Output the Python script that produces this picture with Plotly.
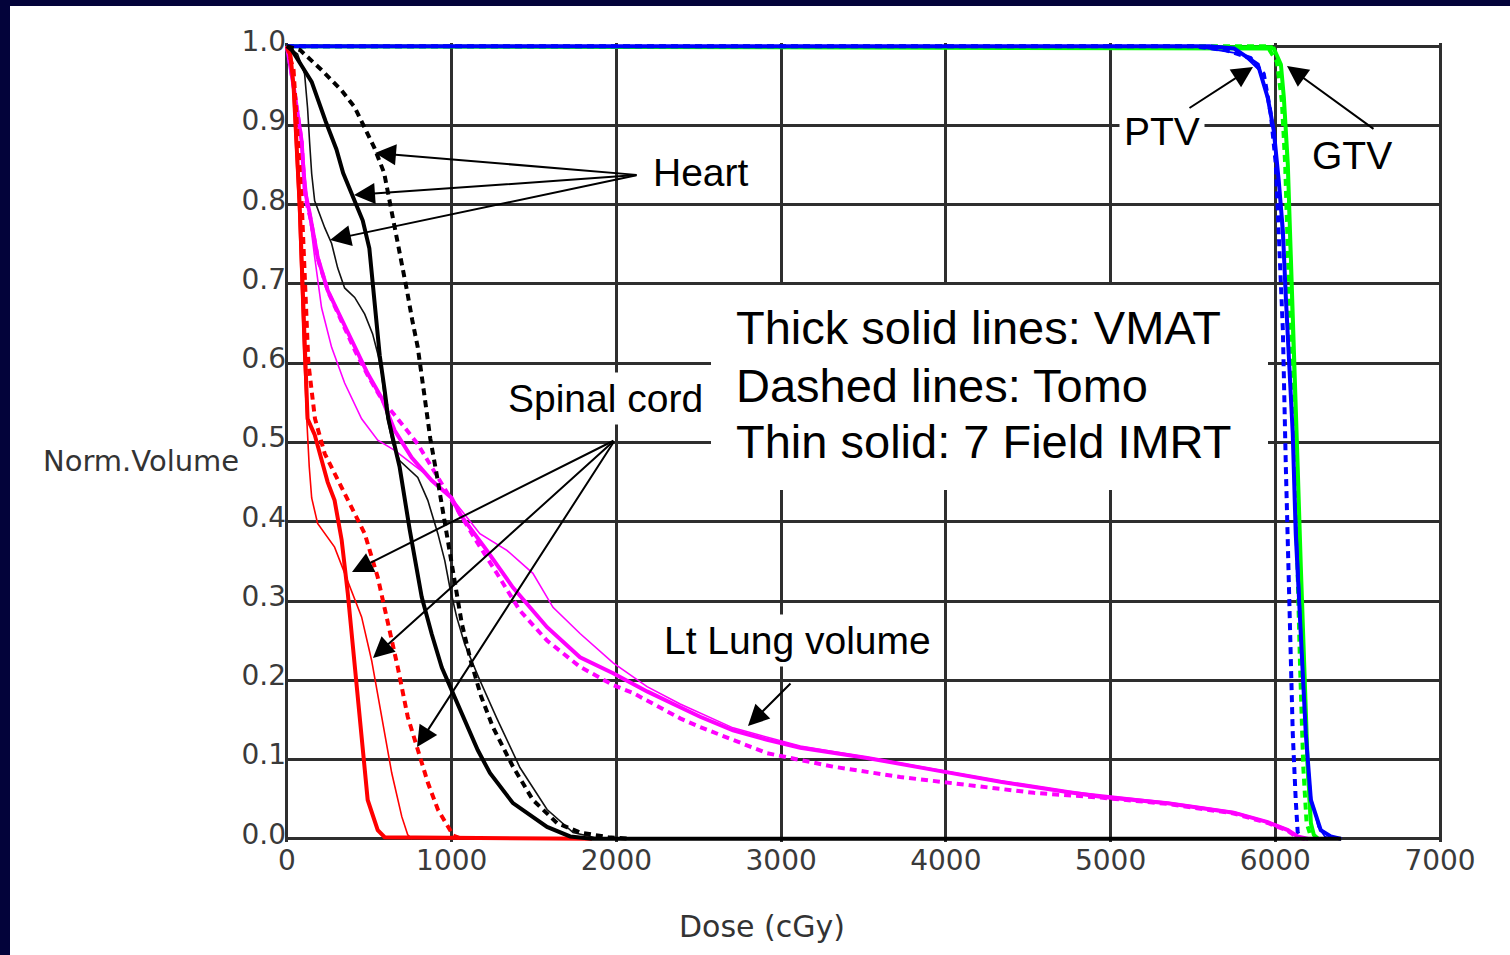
import plotly.graph_objects as go

# ---------------- data (dose in cGy, normalized volume) ----------------
heart_vmat_dose = [0, 30, 90, 150, 235, 300, 341, 400, 460, 500, 532, 563, 593, 615, 684, 745, 818, 879, 940, 1000, 1079, 1158, 1232, 1372, 1579, 1719, 1850, 6400]
heart_vmat_vol = [1.0, 0.995, 0.975, 0.955, 0.905, 0.87, 0.84, 0.81, 0.78, 0.745, 0.68, 0.61, 0.566, 0.53, 0.469, 0.39, 0.305, 0.258, 0.216, 0.188, 0.15, 0.112, 0.083, 0.045, 0.015, 0.003, 0.0, 0.0]

heart_tomo_dose = [0, 80, 210, 332, 411, 472, 530, 590, 638, 690, 730, 760, 794, 836, 870, 912, 960, 1010, 1061, 1115, 1178, 1250, 1372, 1493, 1639, 1779, 1950, 2083]
heart_tomo_vol = [1.0, 0.995, 0.97, 0.944, 0.923, 0.897, 0.872, 0.84, 0.79, 0.734, 0.69, 0.655, 0.62, 0.557, 0.505, 0.456, 0.395, 0.33, 0.272, 0.225, 0.18, 0.141, 0.091, 0.049, 0.02, 0.008, 0.002, 0.0]

heart_imrt_dose = [0, 30, 64, 107, 125, 137, 150, 168, 229, 271, 308, 350, 411, 472, 520, 551, 575, 600, 640, 685, 794, 855, 916, 958, 988, 1030, 1080, 1171, 1274, 1414, 1579, 1737, 1900]
heart_imrt_vol = [1.0, 0.995, 0.99, 0.965, 0.922, 0.88, 0.839, 0.805, 0.771, 0.751, 0.72, 0.695, 0.683, 0.662, 0.637, 0.612, 0.587, 0.54, 0.5, 0.477, 0.456, 0.427, 0.385, 0.351, 0.318, 0.28, 0.245, 0.2, 0.152, 0.09, 0.037, 0.008, 0.0]

cord_vmat_dose = [0, 20, 40, 77, 107, 125, 168, 247, 289, 332, 369, 411, 453, 490, 551, 593, 1850]
cord_vmat_vol = [1.0, 0.99, 0.95, 0.80, 0.63, 0.53, 0.51, 0.45, 0.427, 0.377, 0.31, 0.217, 0.134, 0.049, 0.011, 0.002, 0.0]

cord_tomo_dose = [0, 40, 90, 130, 170, 229, 289, 392, 472, 551, 611, 672, 733, 794, 855, 916, 976, 1010, 1060]
cord_tomo_vol = [1.0, 0.97, 0.80, 0.60, 0.53, 0.486, 0.461, 0.418, 0.385, 0.33, 0.276, 0.217, 0.154, 0.112, 0.071, 0.037, 0.015, 0.004, 0.0]

cord_imrt_dose = [0, 30, 70, 100, 120, 135, 150, 186, 289, 369, 453, 514, 575, 636, 697, 733, 760]
cord_imrt_vol = [1.0, 0.97, 0.80, 0.62, 0.53, 0.47, 0.43, 0.398, 0.368, 0.326, 0.28, 0.225, 0.154, 0.083, 0.028, 0.005, 0.0]

lung_vmat_dose = [0, 40, 89, 107, 137, 186, 247, 332, 411, 490, 575, 654, 757, 879, 1000, 1049, 1213, 1372, 1579, 1779, 1980, 2186, 2387, 2508, 2708, 2915, 3116, 3523, 3925, 4332, 4739, 4939, 5347, 5747, 5954, 6076, 6136, 6200]
lung_vmat_vol = [1.0, 0.95, 0.88, 0.82, 0.79, 0.734, 0.692, 0.655, 0.62, 0.587, 0.556, 0.515, 0.481, 0.452, 0.43, 0.41, 0.364, 0.317, 0.267, 0.229, 0.209, 0.186, 0.166, 0.154, 0.137, 0.125, 0.115, 0.102, 0.087, 0.072, 0.059, 0.053, 0.045, 0.033, 0.021, 0.011, 0.003, 0.0]

lung_tomo_dose = [0, 40, 89, 110, 140, 190, 250, 335, 415, 495, 580, 672, 794, 916, 1037, 1158, 1274, 1414, 1579, 1779, 1980, 2101, 2387, 2508, 2915, 3317, 3723, 4130, 4534, 4939, 5347, 5747, 5954, 6076, 6130, 6180]
lung_tomo_vol = [1.0, 0.95, 0.88, 0.81, 0.785, 0.73, 0.69, 0.65, 0.615, 0.583, 0.553, 0.53, 0.498, 0.456, 0.414, 0.373, 0.335, 0.288, 0.25, 0.217, 0.194, 0.184, 0.152, 0.141, 0.108, 0.091, 0.078, 0.068, 0.058, 0.052, 0.044, 0.032, 0.02, 0.01, 0.002, 0.0]

lung_imrt_dose = [0, 40, 89, 125, 168, 210, 271, 350, 453, 551, 654, 757, 855, 1000, 1171, 1335, 1493, 1615, 1779, 1980, 2186, 2387, 2708, 3116, 3523, 3925, 4332, 4739, 5347, 5747, 5954, 6076, 6136, 6200]
lung_imrt_vol = [1.0, 0.95, 0.88, 0.806, 0.734, 0.67, 0.62, 0.575, 0.53, 0.503, 0.49, 0.474, 0.458, 0.43, 0.385, 0.364, 0.335, 0.292, 0.259, 0.222, 0.192, 0.17, 0.14, 0.117, 0.103, 0.088, 0.073, 0.06, 0.046, 0.034, 0.022, 0.012, 0.004, 0.0]

ptv_vmat_dose = [0, 5600, 5750, 5894, 5954, 5991, 6021, 6046, 6064, 6082, 6106, 6124, 6155, 6185, 6216, 6276, 6337, 6400]
ptv_vmat_vol = [1.0, 1.0, 0.997, 0.977, 0.935, 0.893, 0.83, 0.767, 0.683, 0.6, 0.511, 0.385, 0.259, 0.133, 0.049, 0.011, 0.003, 0.0]

ptv_tomo_dose = [0, 5500, 5700, 5850, 5930, 5973, 6003, 6021, 6046, 6064, 6082, 6106, 6124, 6136, 6160]
ptv_tomo_vol = [1.0, 1.0, 0.995, 0.985, 0.965, 0.914, 0.851, 0.767, 0.641, 0.469, 0.301, 0.133, 0.049, 0.008, 0.0]

ptv_imrt_dose = [0, 5500, 5800, 5900, 5960, 6000, 6030, 6060, 6090, 6115, 6140, 6165, 6190, 6220, 6260, 6300, 6340]
ptv_imrt_vol = [1.0, 1.0, 0.99, 0.97, 0.93, 0.88, 0.8, 0.7, 0.58, 0.47, 0.35, 0.23, 0.12, 0.05, 0.015, 0.003, 0.0]

gtv_vmat_dose = [0, 5991, 6034, 6052, 6076, 6094, 6112, 6136, 6155, 6173, 6197, 6216, 6234, 6260]
gtv_vmat_vol = [1.0, 0.997, 0.977, 0.935, 0.851, 0.725, 0.6, 0.469, 0.343, 0.217, 0.091, 0.02, 0.005, 0.0]

gtv_tomo_dose = [0, 5950, 6010, 6040, 6060, 6080, 6095, 6115, 6135, 6150, 6170, 6190, 6220]
gtv_tomo_vol = [1.0, 1.0, 0.98, 0.93, 0.85, 0.72, 0.6, 0.47, 0.34, 0.22, 0.09, 0.02, 0.0]

gtv_imrt_dose = [0, 5980, 6030, 6050, 6072, 6090, 6108, 6130, 6150, 6168, 6190, 6210, 6240]
gtv_imrt_vol = [1.0, 1.0, 0.98, 0.93, 0.85, 0.72, 0.6, 0.47, 0.34, 0.22, 0.09, 0.02, 0.0]

x_ticks = [0, 1000, 2000, 3000, 4000, 5000, 6000, 7000]
y_ticks = [0.0, 0.1, 0.2, 0.3, 0.4, 0.5, 0.6, 0.7, 0.8, 0.9, 1.0]

# ---------------- layout geometry ----------------
W, H = 1510, 955
ML, MR, MT, MB = 285, 68, 43, 113
XR = [-12, 7012]
YR = [-0.004, 1.004]
PW = W - ML - MR
PH = H - MT - MB


def dx(px):
    return XR[0] + (px - ML) / PW * (XR[1] - XR[0])


def vy(py):
    return YR[0] + (H - MB - py) / PH * (YR[1] - YR[0])


def paper_x(px):
    return (px - ML) / PW


def paper_y(py):
    return (H - MB - py) / PH


THICK, THIN = 4, 1.6
DASH = "7px,5px"

series = [
    (gtv_imrt_dose, gtv_imrt_vol, "#00ff00", THIN, "solid"),
    (gtv_tomo_dose, gtv_tomo_vol, "#00ff00", THICK, DASH),
    (gtv_vmat_dose, gtv_vmat_vol, "#00ff00", THICK, "solid"),
    (ptv_imrt_dose, ptv_imrt_vol, "#0000ff", THIN, "solid"),
    (ptv_tomo_dose, ptv_tomo_vol, "#0000ff", THICK, DASH),
    (ptv_vmat_dose, ptv_vmat_vol, "#0000ff", THICK, "solid"),
    (lung_imrt_dose, lung_imrt_vol, "#ff00ff", THIN, "solid"),
    (lung_tomo_dose, lung_tomo_vol, "#ff00ff", THICK, DASH),
    (lung_vmat_dose, lung_vmat_vol, "#ff00ff", THICK, "solid"),
    (cord_imrt_dose, cord_imrt_vol, "#ff0000", THIN, "solid"),
    (cord_tomo_dose, cord_tomo_vol, "#ff0000", THICK, DASH),
    (cord_vmat_dose, cord_vmat_vol, "#ff0000", THICK, "solid"),
    (heart_imrt_dose, heart_imrt_vol, "#111111", THIN, "solid"),
    (heart_tomo_dose, heart_tomo_vol, "#000000", THICK, DASH),
    (heart_vmat_dose, heart_vmat_vol, "#000000", THICK, "solid"),
]

fig = go.Figure()
for d, v, c, w, dash in series:
    fig.add_trace(go.Scatter(x=d, y=v, mode="lines", showlegend=False,
                             line=dict(color=c, width=w, dash=dash),
                             hoverinfo="skip"))

tick_font = dict(family="DejaVu Sans, sans-serif", size=28, color="#3a3a3a")
grid_color = "#2e2e2e"

fig.update_xaxes(range=XR, tickvals=x_ticks, ticktext=[str(t) for t in x_ticks],
                 showgrid=True, gridcolor=grid_color, gridwidth=2.5, zeroline=False,
                 showline=False, ticks="", tickfont=tick_font, ticklabelstandoff=-1)
fig.update_yaxes(range=YR, tickvals=y_ticks, ticktext=["%.1f" % t for t in y_ticks],
                 showgrid=True, gridcolor=grid_color, gridwidth=2.5, zeroline=False,
                 showline=False, ticks="", tickfont=tick_font, ticklabelstandoff=-2,
                 ticklabelshift=-5)

ann_font = dict(family="Liberation Sans, Arial, sans-serif", size=39, color="#000000")
box_font = dict(family="Liberation Sans, Arial, sans-serif", size=47, color="#000000")

annotations = []

# text labels with white backgrounds
labels = [
    ("Heart", 701, 172),
    ("Spinal cord", 605, 398),
    ("PTV", 1162, 131),
    ("GTV", 1352, 155),
    ("Lt Lung volume", 797, 640),
]
for txt, px, py in labels:
    annotations.append(dict(text=txt, x=dx(px), y=vy(py), xref="x", yref="y",
                            showarrow=False, font=ann_font, bgcolor="#ffffff",
                            borderpad=4, xanchor="center", yanchor="middle"))

# big explanatory text box
box_lines = [("Thick solid lines: VMAT", 327), ("Dashed lines: Tomo", 385),
             ("Thin solid: 7 Field IMRT", 441)]
for txt, py in box_lines:
    annotations.append(dict(text=txt, x=dx(734), y=vy(py), xref="x", yref="y",
                            showarrow=False, font=box_font, xanchor="left",
                            yanchor="middle"))

# arrows: (tail px, tail py, head px, head py)
arrows = [
    (638, 175, 375, 153), (638, 175, 354, 195), (638, 175, 330, 240),
    (615, 440, 352, 572), (615, 440, 373, 658), (615, 440, 417, 747),
    (792, 682, 748, 726),
    (1188, 109, 1253, 67),
    (1375, 130, 1287, 66),
]
for tx, ty, hx, hy in arrows:
    annotations.append(dict(text="", x=dx(hx), y=vy(hy), ax=dx(tx), ay=vy(ty),
                            xref="x", yref="y", axref="x", ayref="y",
                            showarrow=True, arrowhead=2, arrowsize=2.1,
                            arrowwidth=2, arrowcolor="#000000", standoff=0))

# axis titles
annotations.append(dict(text="Norm.Volume", x=paper_x(241), y=paper_y(461),
                        xref="paper", yref="paper", showarrow=False,
                        xanchor="right", yanchor="middle",
                        font=dict(family="DejaVu Sans, sans-serif", size=29, color="#333333")))
annotations.append(dict(text="Dose (cGy)", x=paper_x(762), y=paper_y(926),
                        xref="paper", yref="paper", showarrow=False,
                        xanchor="center", yanchor="middle",
                        font=dict(family="DejaVu Sans, sans-serif", size=30, color="#333333")))

shapes = [
    # white background box for explanatory text
    dict(type="rect", xref="x", yref="y", x0=dx(711), x1=dx(1268), y0=vy(490), y1=vy(285),
         fillcolor="#ffffff", line=dict(width=0), layer="above"),
    # navy slide frame (top and left)
    dict(type="rect", xref="paper", yref="paper", x0=paper_x(0), x1=paper_x(W),
         y0=paper_y(6), y1=paper_y(0), fillcolor="#03033a", line=dict(width=0), layer="above"),
    dict(type="rect", xref="paper", yref="paper", x0=paper_x(0), x1=paper_x(10),
         y0=paper_y(H), y1=paper_y(0), fillcolor="#03033a", line=dict(width=0), layer="above"),
]

fig.update_layout(width=W, height=H, margin=dict(l=ML, r=MR, t=MT, b=MB),
                  paper_bgcolor="#ffffff", plot_bgcolor="#ffffff",
                  annotations=annotations, shapes=shapes, showlegend=False)

fig.write_html("out.html", config={"displayModeBar": False},
               post_script="document.body.style.margin='0';document.body.style.overflow='hidden';")
